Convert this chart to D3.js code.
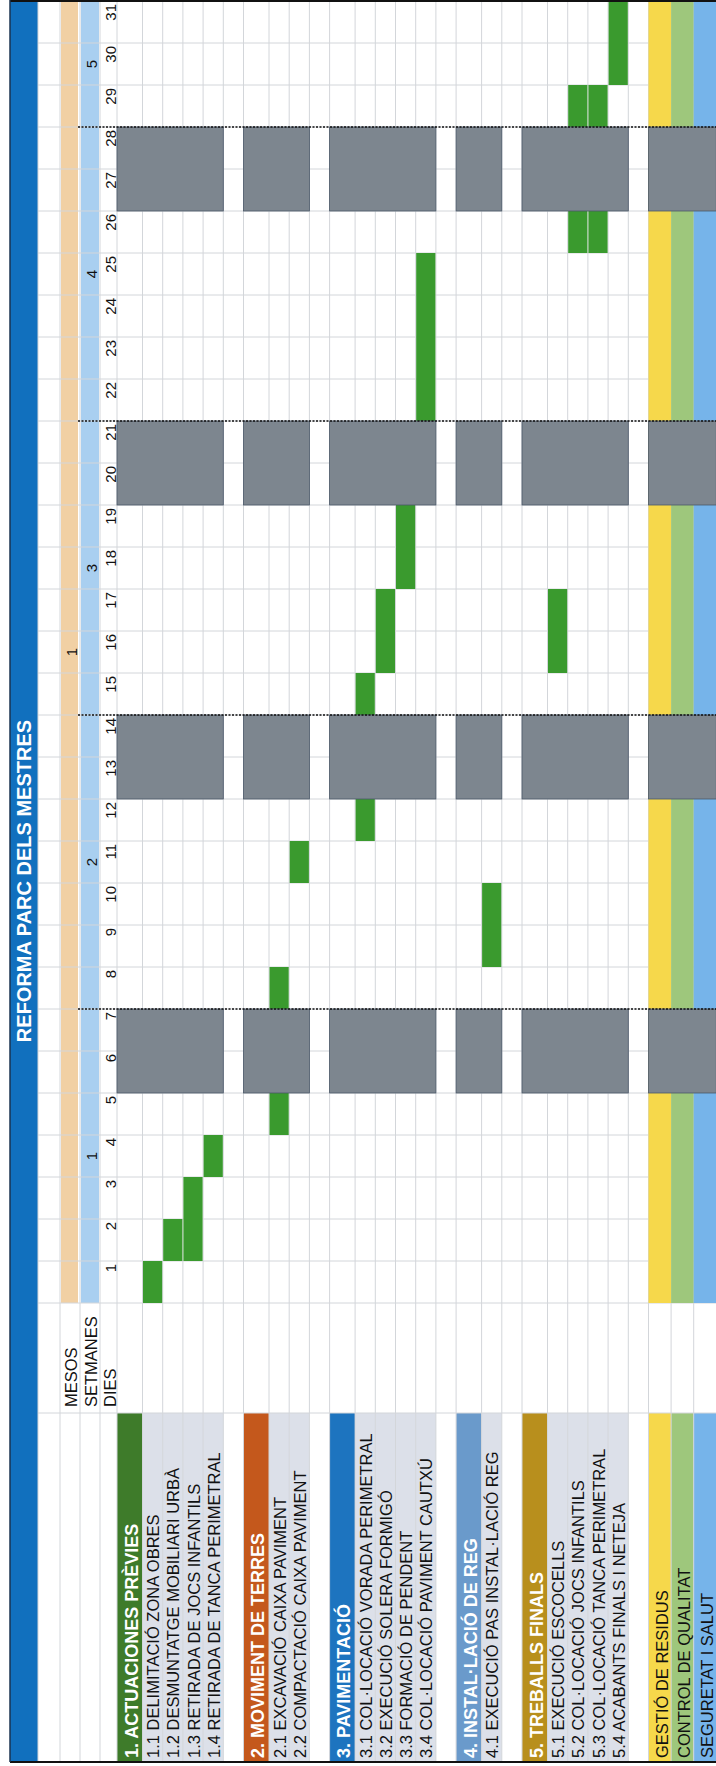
<!DOCTYPE html>
<html><head><meta charset="utf-8">
<script src="https://cdn.jsdelivr.net/npm/d3@7/dist/d3.min.js"></script>
<style>html,body{margin:0;padding:0;background:#fff;} svg{display:block;font-family:"Liberation Sans",Arial,sans-serif;}</style>
</head><body><svg id="c" width="716" height="1766"></svg>
<script>
// ---------------- DATA ----------------
const title = "REFORMA PARC DELS MESTRES";
const dayLabels = [1,2,3,4,5,6,7,8,9,10,11,12,13,14,15,16,17,18,19,20,21,22,23,24,25,26,27,28,29,30,31];
const weekLabels = ["1","2","3","4","5"];
const weekFirstDay = [1,8,15,22,29];
const weekLastDay = [7,14,21,28,31];
const monthLabels = ["1"];
const monthFirstDay = [1];
const monthLastDay = [31];
const weekendDays = [6,7,13,14,20,21,27,28];
const headerLabels = ["MESOS","SETMANES","DIES"];
const sectionNames = ["1. ACTUACIONES PRÈVIES","2. MOVIMENT DE TERRES","3. PAVIMENTACIÓ","4. INSTAL·LACIÓ DE REG","5. TREBALLS FINALS"];
const taskNames = [
  "1.1 DELIMITACIÓ ZONA OBRES","1.2 DESMUNTATGE MOBILIARI URBÀ","1.3 RETIRADA DE JOCS INFANTILS","1.4 RETIRADA DE TANCA PERIMETRAL",
  "2.1 EXCAVACIÓ CAIXA PAVIMENT","2.2 COMPACTACIÓ CAIXA PAVIMENT",
  "3.1 COL·LOCACIÓ VORADA PERIMETRAL","3.2 EXECUCIÓ SOLERA FORMIGÓ","3.3 FORMACIÓ DE PENDENT","3.4 COL·LOCACIÓ PAVIMENT CAUTXÚ",
  "4.1 EXECUCIÓ PAS INSTAL·LACIÓ REG",
  "5.1 EXECUCIÓ ESCOCELLS","5.2 COL·LOCACIÓ JOCS INFANTILS","5.3 COL·LOCACIÓ TANCA PERIMETRAL","5.4 ACABANTS FINALS I NETEJA"];
const taskSection = [0,0,0,0,1,1,2,2,2,2,3,4,4,4,4];
const taskStart   = [1,2,2,4,5,11,12,16,18,22,9,16,26,26,30];
const taskEnd     = [1,2,3,4,8,11,15,17,19,25,10,17,29,29,31];
const generalNames = ["GESTIÓ DE RESIDUS","CONTROL DE QUALITAT","SEGURETAT I SALUT"];
const generalStart = [1,1,1];
const generalEnd   = [31,31,31];

// ---------------- STYLES ----------------
const sectionColors = ["#3E7B2A","#C4581C","#1D74BF","#6A9ACB","#B88F1D"];
const generalColors = ["#F6D84B","#9EC77C","#76B4EA"];
const C = {title:"#1170BE", month:"#F1D0A4", week:"#A9CFF0", bar:"#3A9A2E", weekend:"#7D868F",
           taskBg:"#DCE0E9", grid:"#D3D6DA", text:"#111"};

// ---------------- LAYOUT (landscape, then rotated) ----------------
const W = 1766, H = 716;
const svg = d3.select("#c");
const g = svg.append("g").attr("transform", `translate(0,${W}) rotate(-90)`);

const LX0 = 4, LX1 = 353, DX0 = 463, DX1 = 1765;
const x = d3.scaleBand().domain(dayLabels).range([DX0, DX1]);
const bw = x.bandwidth();
const xs = d => x(d), xe = d => x(d) + bw;

// rows
const HDR = 25.5, ROW = 20.2, GAP = 20.2, GEN = 22.6;
let cy = 117;
const rows = [];
const blocks = [];
sectionNames.forEach((s, si) => {
  const b0 = cy;
  rows.push({type:"header", label:s, color:sectionColors[si], y0:cy, y1:cy+HDR}); cy += HDR;
  taskNames.forEach((t, ti) => {
    if (taskSection[ti] === si) {
      rows.push({type:"task", label:t, start:taskStart[ti], end:taskEnd[ti], y0:cy, y1:cy+ROW}); cy += ROW;
    }
  });
  blocks.push([b0, cy]);
  rows.push({type:"gap", y0:cy, y1:cy+GAP}); cy += GAP;
});
const g0 = cy;
generalNames.forEach((n, i) => {
  rows.push({type:"general", label:n, color:generalColors[i], start:generalStart[i], end:generalEnd[i], y0:cy, y1:cy+GEN}); cy += GEN;
});
blocks.push([g0, cy]);

// title band
g.append("rect").attr("x", LX0).attr("y", 10).attr("width", W - LX0).attr("height", 28).attr("fill", C.title);
g.append("text").attr("x", (LX0 + W) / 2).attr("y", 31).attr("text-anchor", "middle")
  .attr("fill", "#fff").attr("font-weight", "bold").attr("font-size", 20).text(title);

// month & week bands
g.append("rect").attr("x", DX0).attr("y", 61).attr("width", DX1 - DX0).attr("height", 17).attr("fill", C.month);
g.append("rect").attr("x", DX0).attr("y", 81).attr("width", DX1 - DX0).attr("height", 18).attr("fill", C.week);

// label column backgrounds
rows.forEach(r => {
  if (r.type === "header") g.append("rect").attr("x", LX0).attr("y", r.y0).attr("width", LX1 - LX0).attr("height", r.y1 - r.y0).attr("fill", r.color);
  if (r.type === "task") g.append("rect").attr("x", LX0).attr("y", r.y0).attr("width", LX1 - LX0).attr("height", r.y1 - r.y0).attr("fill", C.taskBg);
  if (r.type === "general") {
    g.append("rect").attr("x", LX0).attr("y", r.y0).attr("width", LX1 - LX0).attr("height", r.y1 - r.y0).attr("fill", r.color);
  }
});

// grid
const hLines = [38, 60, 80, 100].concat(rows.map(r => r.y0));
g.append("g").selectAll("line").data(hLines).join("line")
  .attr("x1", LX0).attr("x2", W).attr("y1", d => d).attr("y2", d => d)
  .attr("stroke", C.grid).attr("stroke-width", 1);
const vLines = [LX1, DX0].concat(dayLabels.map(d => xe(d)));
g.append("g").selectAll("line").data(vLines).join("line")
  .attr("x1", d => d).attr("x2", d => d).attr("y1", 38).attr("y2", H)
  .attr("stroke", C.grid).attr("stroke-width", 1);

// general rows (full span colour)
rows.filter(r => r.type === "general").forEach(r => {
  g.append("rect").attr("x", xs(r.start)).attr("y", r.y0).attr("width", xe(r.end) - xs(r.start)).attr("height", r.y1 - r.y0).attr("fill", r.color);
});

// task bars
g.append("g").selectAll("rect").data(rows.filter(r => r.type === "task")).join("rect")
  .attr("x", r => xs(r.start)).attr("y", r => r.y0 + 0.5)
  .attr("width", r => xe(r.end) - xs(r.start)).attr("height", r => r.y1 - r.y0 - 1)
  .attr("fill", C.bar);

// weekend blocks (consecutive weekend days merged)
const wkRuns = [];
weekendDays.forEach(d => {
  const last = wkRuns[wkRuns.length - 1];
  if (last && last[1] === d - 1) last[1] = d; else wkRuns.push([d, d]);
});
wkRuns.forEach(([a, b]) => {
  blocks.forEach(([y0, y1]) => {
    g.append("rect").attr("x", xs(a)).attr("y", y0).attr("width", xe(b) - xs(a)).attr("height", y1 - y0)
      .attr("fill", C.weekend).attr("stroke", "#4a5868").attr("stroke-width", 0.8);
  });
});

// week separators (dotted)
weekLastDay.slice(0, -1).forEach(d => {
  g.append("line").attr("x1", xe(d)).attr("x2", xe(d)).attr("y1", 78).attr("y2", H)
    .attr("stroke", "#111").attr("stroke-width", 1.6).attr("stroke-dasharray", "2,1.5");
});

// header labels
const hdrBase = [77, 97, 116];
headerLabels.forEach((t, i) => {
  g.append("text").attr("x", LX1 + 6).attr("y", hdrBase[i]).attr("font-size", 16.5).attr("fill", C.text).text(t);
});
// month labels
monthLabels.forEach((t, i) => {
  g.append("text").attr("x", (xs(monthFirstDay[i]) + xe(monthLastDay[i])) / 2).attr("y", 77)
    .attr("text-anchor", "middle").attr("font-size", 15).attr("fill", C.text).text(t);
});
// week labels
weekLabels.forEach((t, i) => {
  g.append("text").attr("x", (xs(weekFirstDay[i]) + xe(weekLastDay[i])) / 2).attr("y", 97)
    .attr("text-anchor", "middle").attr("font-size", 15).attr("fill", C.text).text(t);
});
// day labels
g.append("g").selectAll("text").data(dayLabels).join("text")
  .attr("x", d => xe(d) - 3).attr("y", 116).attr("text-anchor", "end")
  .attr("font-size", 15).attr("fill", C.text).text(d => d);

// row labels
rows.forEach(r => {
  if (r.type === "header") {
    g.append("text").attr("x", LX0 + 4).attr("y", r.y1 - 5).attr("font-size", 18).attr("font-weight", "bold")
      .attr("fill", "#fff").text(r.label);
  } else if (r.type === "task" || r.type === "general") {
    g.append("text").attr("x", LX0 + 4).attr("y", r.y1 - 3.5).attr("font-size", 16.5)
      .attr("fill", C.text).text(r.label);
  }
});

// outer border
g.append("line").attr("x1", LX0).attr("x2", LX0).attr("y1", 10).attr("y2", H).attr("stroke", "#111").attr("stroke-width", 2);
g.append("line").attr("x1", W - 1).attr("x2", W - 1).attr("y1", 10).attr("y2", H).attr("stroke", "#111").attr("stroke-width", 2);
g.append("line").attr("x1", LX0).attr("x2", W).attr("y1", 10).attr("y2", 10).attr("stroke", "#1a3350").attr("stroke-width", 1.5);
</script></body></html>
